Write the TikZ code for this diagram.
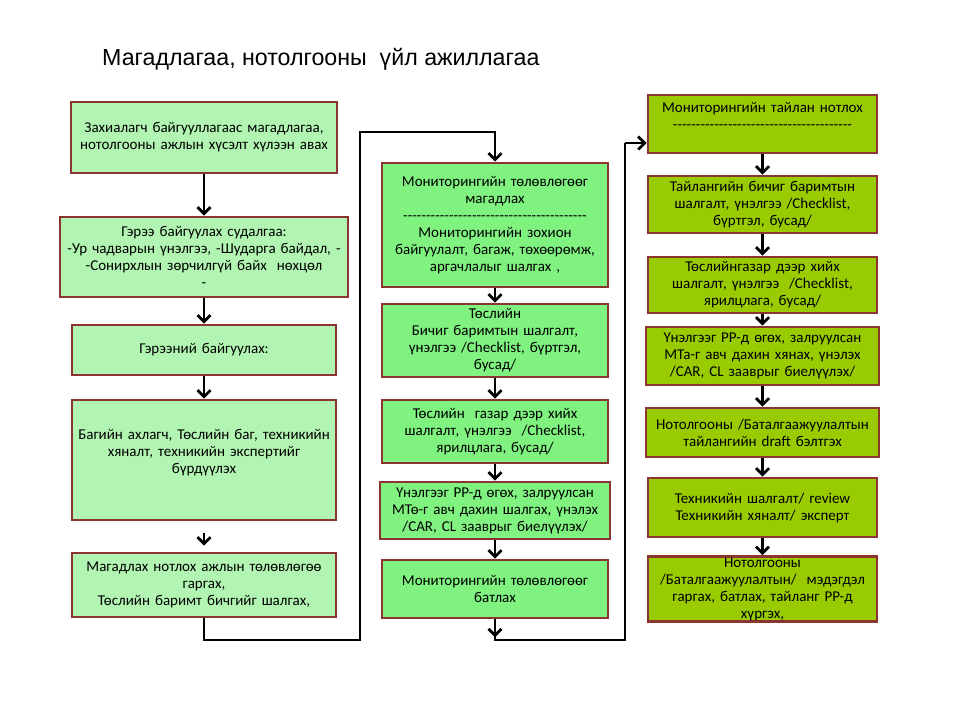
\documentclass[tikz,border=0pt]{standalone}
\usepackage{fontspec}
\setmainfont{Carlito}
\newfontfamily\titlefont{Liberation Sans}
\usetikzlibrary{arrows.meta}
\definecolor{brd}{RGB}{140,52,50}
\definecolor{fillA}{RGB}{178,245,178}
\definecolor{fillB}{RGB}{128,242,128}
\definecolor{fillC}{RGB}{153,204,0}
\newcommand\dashrow[1]{\foreach \i in {1,...,#1}{-}}
\tikzset{
  box/.style={draw=brd, line width=2.6pt, align=center, inner sep=1pt,
    font=\fontsize{15}{17}\selectfont},
  boxA/.style={box, fill=fillA},
  boxB/.style={box, fill=fillB},
  boxC/.style={box, fill=fillC},
  conn/.style={line width=2.8pt, black},
  arr/.style={conn, -{Straight Barb[length=6.5pt,width=13pt,line width=2.8pt]}},
}
\begin{document}
\begin{tikzpicture}[x=1pt,y=-1pt]
\useasboundingbox (0,0) rectangle (960,720);
\node[anchor=base west, inner sep=0pt, font=\titlefont\fontsize{23.2}{27}\selectfont] (title) at (102,65) {Магадлагаа, нотолгооны\ \ үйл ажиллагаа};
% column 1
\node[boxA, minimum width=266pt, minimum height=71pt, text width=262pt] (b1) at (204,137.5)
  {Захиалагч байгууллагаас магадлагаа,\\ нотолгооны ажлын хүсэлт хүлээн авах};
\node[boxA, minimum width=288pt, minimum height=80pt, text width=284pt] (b2) at (204,257)
  {Гэрээ байгуулах судалгаа:\\ -Ур чадварын үнэлгээ, -Шударга байдал, -\\ -Сонирхлын зөрчилгүй байх\ \ нөхцөл\\ -};
\node[boxA, minimum width=264pt, minimum height=50pt, text width=260pt] (b3) at (204,350)
  {Гэрээний байгуулах:};
\node[boxA, minimum width=264pt, minimum height=120pt, text width=260pt] (b4) at (204,460)
  {Багийн ахлагч, Төслийн баг, техникийн\\ хяналт, техникийн экспертийг\\ бүрдүүлэх\\ \mbox{}};
\node[boxA, minimum width=264pt, minimum height=64pt, text width=260pt] (b5) at (204,585)
  {Магадлах нотлох ажлын төлөвлөгөө\\ гаргах,\\ Төслийн баримт бичгийг шалгах,};
% column 2
\node[boxB, minimum width=226pt, minimum height=124pt, text width=224pt] (c1) at (495,225)
  {Мониторингийн төлөвлөгөөг\\ магадлах\\ \dashrow{40}\\ Мониторингийн зохион\\ байгуулалт, багаж, төхөөрөмж,\\ аргачлалыг шалгах ,};
\node[boxB, minimum width=226pt, minimum height=73pt, text width=224pt] (c2) at (495,340.5)
  {Төслийн\\ Бичиг баримтын шалгалт,\\ үнэлгээ /Checklist, бүртгэл,\\ бусад/};
\node[boxB, minimum width=226pt, minimum height=63pt, text width=224pt] (c3) at (495,431.5)
  {Төслийн\ \ газар дээр хийх\\ шалгалт, үнэлгээ\ \ /Checklist,\\ ярилцлага, бусад/};
\node[boxB, minimum width=226pt, minimum height=57pt, text width=228pt] (c4) at (495,510.5)
  {Үнэлгээг PP-д өгөх, залруулсан\\ МТө-г авч дахин шалгах, үнэлэх\\ /CAR, CL зааврыг биелүүлэх/};
\node[boxB, minimum width=226pt, minimum height=58pt, text width=224pt] (c5) at (495,589)
  {Мониторингийн төлөвлөгөөг\\ батлах};
% column 3
\node[boxC, minimum width=229pt, minimum height=58pt, text width=227pt] (d1) at (762.5,124)
  {Мониторингийн тайлан нотлох\\ \dashrow{39}\\ \mbox{}};
\node[boxC, minimum width=229pt, minimum height=57pt, text width=227pt] (d2) at (762.5,204.5)
  {Тайлангийн бичиг баримтын\\ шалгалт, үнэлгээ /Checklist,\\ бүртгэл, бусад/};
\node[boxC, minimum width=229pt, minimum height=56pt, text width=227pt] (d3) at (762.5,285)
  {Төслийнгазар дээр хийх\\ шалгалт, үнэлгээ\ \ /Checklist,\\ ярилцлага, бусад/};
\node[boxC, minimum width=229pt, minimum height=58pt, text width=231pt] (d4) at (762.5,356)
  {Үнэлгээг PP-д өгөх, залруулсан\\ МТа-г авч дахин хянах, үнэлэх\\ /CAR, CL зааврыг биелүүлэх/};
\node[boxC, minimum width=229pt, minimum height=49pt, text width=231pt] (d5) at (762.5,432.5)
  {Нотолгооны /Баталгаажуулалтын\\ тайлангийн draft бэлтгэх};
\node[boxC, minimum width=229pt, minimum height=59pt, text width=227pt] (d6) at (762.5,507.5)
  {Техникийн шалгалт/ review\\ Техникийн хяналт/ эксперт};
\node[boxC, minimum width=229pt, minimum height=58pt, text width=227pt] (d7) at (762.5,589)
  {Нотолгооны\\ /Баталгаажуулалтын/\ \ мэдэгдэл\\ гаргах, батлах, тайланг PP-д\\ хүргэх,};
% arrows column 1
\draw[arr] (b1.south) -- (b2.north);
\draw[arr] (b2.south) -- (b3.north);
\draw[arr] (b3.south) -- (b4.north);
\draw[arr] ([yshift=-12pt]b4.south) -- ([yshift=6pt]b5.north);
% arrows column 2
\draw[arr] (c1.south) -- (c2.north);
\draw[arr] (c2.south) -- (c3.north);
\draw[arr] (c3.south) -- (c4.north);
\draw[arr] (c4.south) -- (c5.north);
% arrows column 3
\draw[arr] (d1.south) -- (d2.north);
\draw[arr] (d2.south) -- (d3.north);
\draw[arr] (d3.south) -- (d4.north);
\draw[arr] (d4.south) -- (d5.north);
\draw[arr] (d5.south) -- (d6.north);
\draw[arr] (d6.south) -- (d7.north);
% long connectors
\coordinate (k1) at (360,640);
\coordinate (k2) at (360,132);
\draw[arr] (b5.south) |- (k1) -- (k2) -| (c1.north);
\coordinate (k3) at (625,640);
\coordinate (k4) at (625,143);
\draw[arr] (c5.south) -- ++(0,18);
\draw[conn] (c5.south) |- (k3) -- (k4);
\draw[arr] (k4) -- (k4 -| d1.west);
\end{tikzpicture}
\end{document}
